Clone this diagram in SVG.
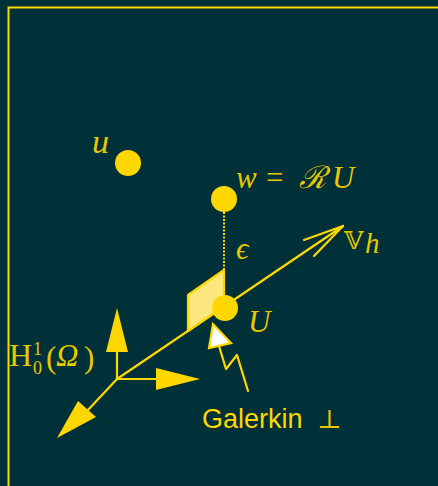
<svg xmlns="http://www.w3.org/2000/svg" width="438" height="486" viewBox="0 0 438 486">
<style>
.bg{fill:#003038}
.ln{stroke:#FFD700;stroke-width:2.2;fill:none;stroke-linecap:round;stroke-linejoin:round}
.fill{fill:#FFD700}
.math{font-family:"Liberation Serif","DejaVu Serif",serif;font-style:italic;font-size:31px;fill:#E8C800}
.rm{font-family:"Liberation Serif","DejaVu Serif",serif;font-size:31px;fill:#E8C800}
.sym{font-family:"DejaVu Serif","DejaVu Sans",serif;font-size:26px;fill:#E8C800}
.sans{font-family:"Liberation Sans","DejaVu Sans",sans-serif;font-size:27px;fill:#FFD700}
</style>
<rect class="bg" x="0" y="0" width="438" height="486"/>
<rect x="8.5" y="7.5" width="460" height="500" fill="none" stroke="#FFD700" stroke-width="2"/>
<g id="connectors">
  <line class="ln" x1="117" y1="379" x2="343" y2="226"/>
  <polyline class="ln" points="304,240 343,226 314,256"/>
  <line class="ln" x1="117" y1="379" x2="117" y2="350"/>
  <polygon class="fill" points="106,352 128,352 117,308"/>
  <line class="ln" x1="117" y1="379" x2="158" y2="379"/>
  <polygon class="fill" points="156,368 156,390 200,379"/>
  <line class="ln" x1="117" y1="379" x2="88" y2="410"/>
  <polygon class="fill" points="78,401 96,417 57,438"/>
  <line x1="224" y1="212" x2="224" y2="272" stroke="#FFD700" stroke-width="2" stroke-dasharray="2 1.5"/>
</g>
<g id="plane">
  <polygon points="188,295 224,270 224,306 188,331" fill="#FFE780" stroke="#FFD700" stroke-width="2.2" stroke-linejoin="round"/>
</g>
<g id="node-u">
  <circle class="fill" cx="128" cy="163" r="13"/>
  <text class="math" x="92" y="153" style="font-size:34px">u</text>
</g>
<g id="node-w">
  <circle class="fill" cx="224" cy="199" r="13"/>
  <text class="math" y="188"><tspan x="236">w</tspan><tspan x="266" style="font-style:normal">=</tspan><tspan x="299">ℛ</tspan><tspan x="332">U</tspan></text>
</g>
<g id="node-U">
  <circle class="fill" cx="225" cy="308" r="13"/>
  <text class="math" x="248" y="332">U</text>
</g>
<g id="label-eps">
  <text class="math" x="236" y="259" style="font-size:31px">ϵ</text>
</g>
<g id="label-Vh">
  <text class="sym" x="344" y="249" style="font-size:25px">𝕍</text>
  <text class="math" x="365" y="253" style="font-size:29px">h</text>
</g>
<g id="label-H">
  <text class="rm"><tspan x="9" y="366" style="font-size:32px">H</tspan><tspan x="33" y="355" style="font-size:18px">1</tspan><tspan x="33" y="374" style="font-size:18px">0</tspan><tspan x="46" y="368">(</tspan><tspan x="56" y="366" style="font-style:italic">Ω</tspan><tspan x="84" y="368">)</tspan></text>
</g>
<g id="galerkin">
  <polygon points="213,324 209,348 231,343" fill="#FFFFFF" stroke="#FFD700" stroke-width="2.2" stroke-linejoin="miter"/>
  <polyline class="ln" points="219,346 226,369 237,355 248,391"/>
  <text class="sans" x="202" y="428">Galerkin</text>
  <text class="sym" x="317" y="428">⊥</text>
</g>
</svg>
